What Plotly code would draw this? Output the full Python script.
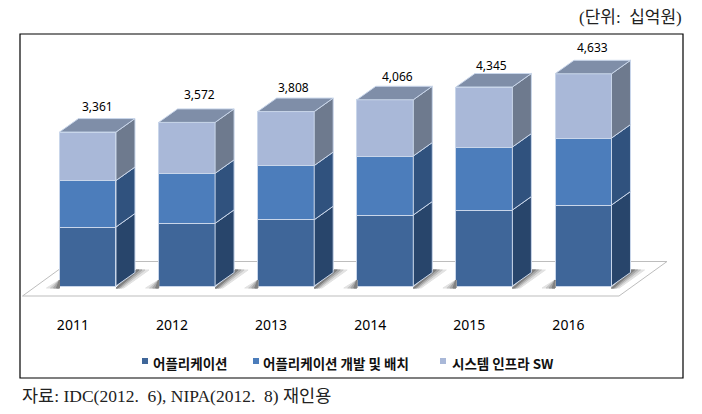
import plotly.graph_objects as go

# values (unit: billion won)
years = ["2011", "2012", "2013", "2014", "2015", "2016"]
totals = [3361, 3572, 3808, 4066, 4345, 4633]
application = [1288, 1368, 1447, 1550, 1659, 1768]
app_dev = [1015, 1092, 1183, 1288, 1375, 1462]
system_sw = [1058, 1112, 1178, 1228, 1311, 1403]
series_names = ["어플리케이션", "어플리케이션 개발 및 배치", "시스템 인프라 SW"]

W, H = 702, 414
ML, MR, MT, MB = 20, 19, 34, 114
PX_PER_CAT = 99.1
PX_PER_VAL = 0.0458
BAR_W = 0.57
DEPTH_X = 19 / PX_PER_CAT
DEPTH_Y = 13.5 / PX_PER_VAL

front_colors = ["#3f6699", "#4c7dbb", "#a9b8d8"]
side_colors = ["#28456b", "#30527e", "#6e7a8e"]
cap_color = "#7f8ea8"
edge = "#c9d6ea"

# label nudges in pixels, the source labels were placed by hand
label_dx = [10, 13, 8, 12, 7, 9]
label_dy = [26, 28, 24, 23, 22, 26]

x_min = (ML - 87.75) / PX_PER_CAT
x_max = (W - MR - 87.75) / PX_PER_CAT
y_min = -14 / PX_PER_VAL
y_max = 252 / PX_PER_VAL


def paper_x(px):
    return (px - ML) / (W - ML - MR)


def paper_y(px):
    return (H - MB - px) / (H - MT - MB)


def to_x(px):
    return (px - 87.75) / PX_PER_CAT


def to_y(px):
    return (286 - px) / PX_PER_VAL


def polygon(points):
    return "M" + "L".join(f"{x},{y}" for x, y in points) + "Z"


idx = list(range(len(years)))
stack = [application, app_dev, system_sw]

fig = go.Figure()

# front faces
for vals, name, color in zip(stack, series_names, front_colors):
    fig.add_trace(go.Bar(x=idx, y=vals, name=name, width=BAR_W, showlegend=False,
                         marker=dict(color=color, line=dict(color=edge, width=1))))

# soft shadows, graded wedges either side of each bar
for grow, gray in [(13, "#e2e2e2"), (9, "#c6c6c6"), (6, "#a6a6a6"), (3, "#808080")]:
    xs, ys = [], []
    for i in idx:
        l_px = 87.75 + i * PX_PER_CAT - BAR_W / 2 * PX_PER_CAT
        r_px = 87.75 + i * PX_PER_CAT + BAR_W / 2 * PX_PER_CAT
        right = [(r_px, 288), (r_px + grow * 0.6, 288), (r_px + 20 + grow, 270), (r_px + 20, 270)]
        left = [(l_px, 288), (l_px - grow, 288), (l_px, 280)]
        for pts in (right, left):
            pts = pts + pts[:1]
            xs += [to_x(a) for a, b in pts] + [None]
            ys += [to_y(b) for a, b in pts] + [None]
    fig.add_trace(go.Scatter(x=xs, y=ys, mode="lines", fill="toself", fillcolor=gray,
                             line=dict(width=1, color=gray), showlegend=False, hoverinfo="skip"))

# side faces, one trace per series
base = [0] * len(years)
for vals, color in zip(stack, side_colors):
    xs, ys = [], []
    for i in idx:
        r = i + BAR_W / 2
        xs += [r, r + DEPTH_X, r + DEPTH_X, r, r, None]
        ys += [base[i], base[i] + DEPTH_Y, base[i] + vals[i] + DEPTH_Y, base[i] + vals[i], base[i], None]
    fig.add_trace(go.Scatter(x=xs, y=ys, mode="lines", fill="toself", fillcolor=color,
                             line=dict(color=edge, width=1), showlegend=False, hoverinfo="skip"))
    base = [b + v for b, v in zip(base, vals)]

# top caps
xs, ys = [], []
for i in idx:
    l, r = i - BAR_W / 2, i + BAR_W / 2
    t = totals[i]
    xs += [l, l + DEPTH_X, r + DEPTH_X, r, l, None]
    ys += [t, t + DEPTH_Y, t + DEPTH_Y, t, t, None]
fig.add_trace(go.Scatter(x=xs, y=ys, mode="lines", fill="toself", fillcolor=cap_color,
                         line=dict(color=edge, width=1), showlegend=False, hoverinfo="skip"))

shapes = []
# floor plate behind the bars
floor = [(to_x(22.5), to_y(296)), (to_x(619), to_y(296)), (to_x(667), to_y(261.5)), (to_x(70), to_y(261.5))]
shapes.append(dict(type="path", path=polygon(floor), xref="x", yref="y", layer="below",
                   line=dict(color="#bdbdbd", width=1), fillcolor="#ffffff"))

# outer frame
shapes.append(dict(type="rect", xref="paper", yref="paper", x0=0, x1=1, y0=paper_y(378), y1=paper_y(34),
                   line=dict(color="#000000", width=1.2)))

annotations = []
# totals above the bars
for i in idx:
    annotations.append(dict(x=i, y=totals[i], xref="x", yref="y", text=f"{totals[i]:,}", showarrow=False,
                            xshift=label_dx[i], yshift=label_dy[i], xanchor="center", yanchor="middle",
                            font=dict(family="Noto Sans", size=12, color="#000000")))

# hand made legend, the native one cannot do the tight swatch spacing
legend_swatch = [142, 253, 440]
legend_text = [151, 261, 450]
for name, color, sx, tx in zip(series_names, front_colors, legend_swatch, legend_text):
    shapes.append(dict(type="rect", xref="paper", yref="paper", x0=paper_x(sx), x1=paper_x(sx + 6),
                       y0=paper_y(364), y1=paper_y(358), fillcolor=color, line=dict(width=0)))
    annotations.append(dict(x=paper_x(tx), y=paper_y(363), xref="paper", yref="paper", text=name,
                            showarrow=False, xanchor="left", yanchor="middle",
                            font=dict(family="Noto Sans CJK KR", size=13.5, color="#111111", weight="bold")))

annotations.append(dict(x=paper_x(684), y=paper_y(17), xref="paper", yref="paper", text="(단위:  십억원)",
                        showarrow=False, xanchor="right", yanchor="middle",
                        font=dict(family="Liberation Serif, Noto Sans CJK KR", size=17, color="#222222")))
annotations.append(dict(x=paper_x(20), y=paper_y(396), xref="paper", yref="paper",
                        text="자료: IDC(2012.  6), NIPA(2012.  8) 재인용",
                        showarrow=False, xanchor="left", yanchor="middle",
                        font=dict(family="Liberation Serif, Noto Sans CJK KR", size=17.5, color="#222222")))

fig.update_layout(
    barmode="stack",
    width=W, height=H,
    autosize=False,
    margin=dict(l=ML, r=MR, t=MT, b=MB, pad=0),
    paper_bgcolor="#ffffff",
    plot_bgcolor="rgba(0,0,0,0)",
    shapes=shapes,
    annotations=annotations,
    showlegend=False,
    xaxis=dict(range=[x_min, x_max], tickmode="array", tickvals=[i - 0.15 for i in idx], ticktext=years,
               showgrid=False, zeroline=False, showline=False, ticks="outside", ticklen=12,
               tickcolor="rgba(0,0,0,0)", tickfont=dict(family="Noto Sans", size=14, color="#000000")),
    yaxis=dict(range=[y_min, y_max], visible=False, showgrid=False, zeroline=False),
)

# browser default body margin would push the chart 8px off
fig.write_html("out.html", config={"displayModeBar": False},
               post_script="document.body.style.margin='0';")
